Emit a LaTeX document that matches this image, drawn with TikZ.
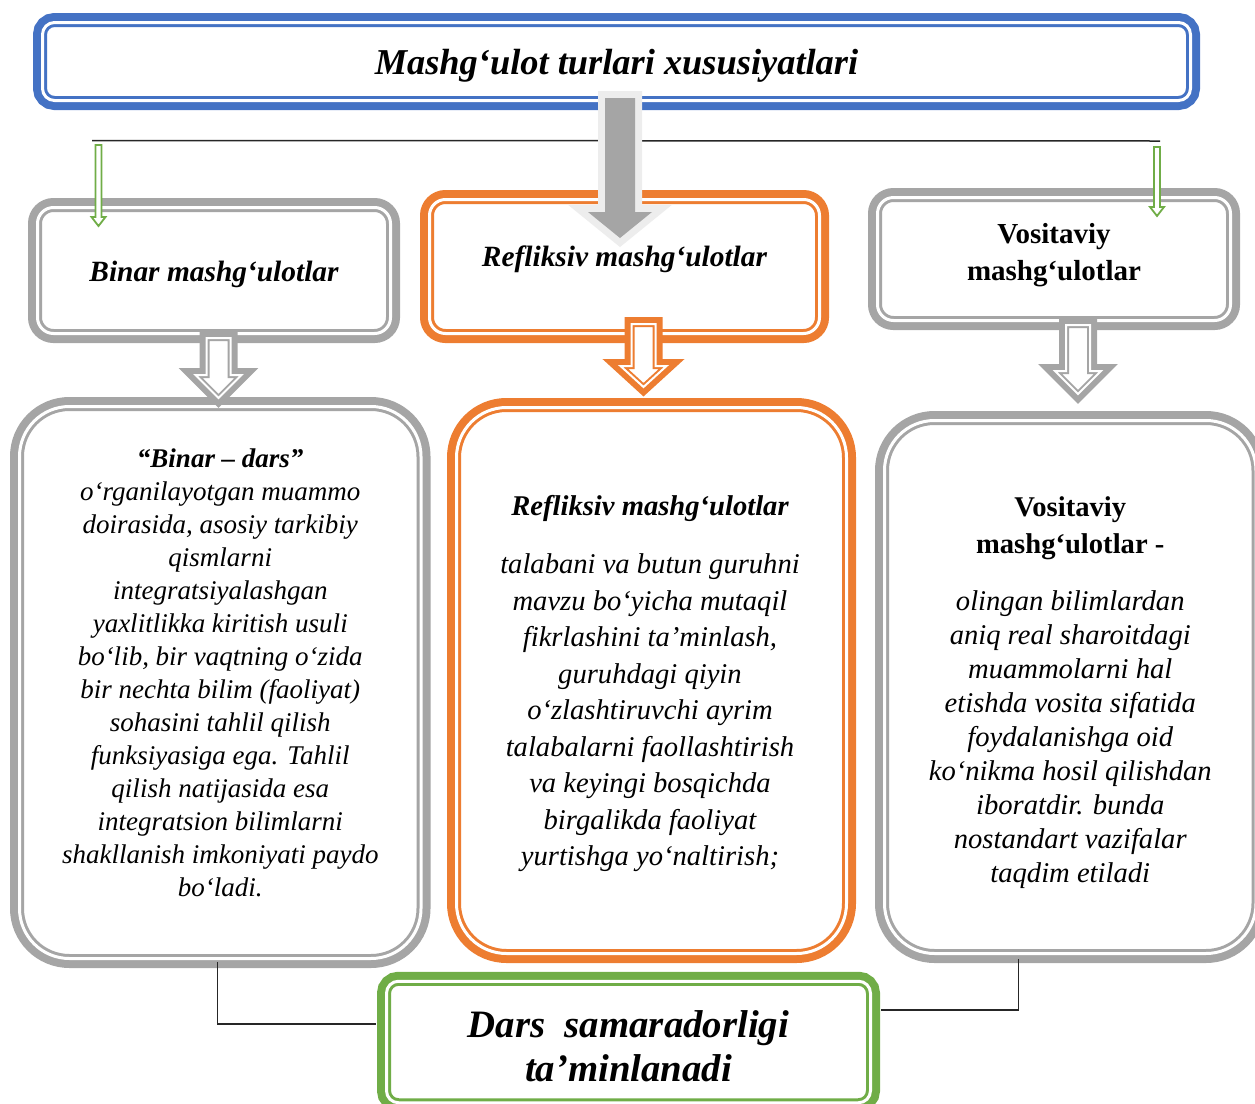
\documentclass[tikz,border=0pt]{standalone}
\usepackage{fontspec}
\setmainfont{Liberation Serif}
\usetikzlibrary{calc}
\definecolor{titleblue}{HTML}{4472C4}
\definecolor{reflorange}{HTML}{ED7D31}
\definecolor{boxgray}{HTML}{A5A5A5}
\definecolor{resgreen}{HTML}{70AD47}
\definecolor{glowgray}{HTML}{EDEDED}
\tikzset{
	dframe/.style={draw=#1, fill=white, line width=1.5pt, double=white, double distance=1.5pt,
		preaction={draw=#1, line width=9.5pt}, inner sep=0pt},
	harrow/.style={draw=#1, fill=white, line width=1pt, double=white, double distance=1pt, line join=miter,
		preaction={draw=#1, line width=7pt, line join=miter}},
	garrow/.style={draw=resgreen, fill=white, line width=0.9pt},
	bigarrow/.style={fill=boxgray, preaction={draw=glowgray, line width=7pt}},
	conn/.style={draw=black!85, line width=0.75pt},
	txt/.style={align=center, inner sep=0pt, text=black},
	headfont/.style={font=\fontsize{14.7}{17}\selectfont\bfseries\itshape},
}
\begin{document}
\begin{tikzpicture}[x=0.5pt, y=-0.5pt]
			\useasboundingbox (0,0) rectangle (1255,1104);
			\clip (0,0) rectangle (1255,1104);
			% frames
			\node[dframe=titleblue, rounded corners=6pt, minimum width=574pt, minimum height=39pt] (title) at (616.5,61.5) {};
			\node[dframe=boxgray, rounded corners=8pt, minimum width=176.5pt, minimum height=63pt] (binar) at (214,270.5) {};
			\node[dframe=reflorange, rounded corners=8pt, minimum width=195pt, minimum height=67pt] (refl) at (624.5,266.5) {};
			\node[dframe=boxgray, rounded corners=8pt, minimum width=176.5pt, minimum height=61.5pt] (vosit) at (1054,259) {};
			\node[dframe=boxgray, rounded corners=25pt, minimum width=200.75pt, minimum height=276pt] (binarbig) at (220.25,682.5) {};
			\node[dframe=reflorange, rounded corners=25pt, minimum width=195pt, minimum height=273pt] (reflbig) at (651.5,680.5) {};
			\node[dframe=boxgray, rounded corners=25pt, minimum width=185.75pt, minimum height=266.5pt] (vositbig) at (1070.25,687) {};
			\node[dframe=resgreen, rounded corners=6pt, minimum width=242pt, minimum height=60.75pt] (dars) at (628.5,1042) {};
			% connectors to the result
			\draw[conn] ($(binarbig.south)+(-3,2)$) |- ($(dars.west)+(-9,-18)$);
			\draw[conn] ($(vositbig.south)+(-52,4)$) |- ($(dars.east)+(9,-32)$);
			\draw[conn] (92,140.5) -- (1160,141);
			% texts
			\node[txt, font=\fontsize{18.2}{20}\selectfont\bfseries\itshape] (titletxt) at ($(title)+(0,4)$) {Mashg‘ulot turlari xususiyatlari};
			\node[txt, headfont] (binartxt) at ($(binar)+(0,4)$) {Binar mashg‘ulotlar};
			\node[txt, headfont] (refltxt) at ($(refl)+(0,-7)$) {Refliksiv mashg‘ulotlar};
			\node[txt, font=\fontsize{14.5}{18.5}\selectfont\bfseries] (vosittxt) at ($(vosit)+(0,-3.5)$) {Vositaviy\\mashg‘ulotlar};
			\node[txt, anchor=north, font=\fontsize{13.5}{16.5}\selectfont\itshape] (binarbigtxt) at ($(binarbig.north)+(0,43)$)
				{\textbf{“Binar – dars”}\\o‘rganilayotgan muammo\\doirasida, asosiy tarkibiy\\qismlarni\\integratsiyalashgan\\yaxlitlikka kiritish usuli\\bo‘lib, bir vaqtning o‘zida\\bir nechta bilim (faoliyat)\\sohasini tahlil qilish\\funksiyasiga ega. Tahlil\\qilish natijasida esa\\integratsion bilimlarni\\shakllanish imkoniyati paydo\\bo‘ladi.};
			\node[txt, anchor=north, font=\fontsize{14.3}{18.25}\selectfont\itshape] (reflbigtxt) at ($(reflbig.north)+(-1.5,89)$)
				{\textbf{Refliksiv mashg‘ulotlar}\\[10.75pt]talabani va butun guruhni\\mavzu bo‘yicha mutaqil\\fikrlashini ta’minlash,\\guruhdagi qiyin\\o‘zlashtiruvchi ayrim\\talabalarni faollashtirish\\va keyingi bosqichda\\birgalikda faoliyat\\yurtishga yo‘naltirish;};
			\node[txt, anchor=north, font=\fontsize{14.3}{17}\selectfont\itshape] (vositbigtxt) at ($(vositbig.north)+(0,77.5)$)
				{\textbf{\upshape Vositaviy}\\[1.5pt]\textbf{\upshape mashg‘ulotlar -}\\[11.5pt]olingan bilimlardan\\aniq real sharoitdagi\\muammolarni hal\\etishda vosita sifatida\\foydalanishga oid\\ko‘nikma hosil qilishdan\\iboratdir. bunda\\nostandart vazifalar\\taqdim etiladi};
			\node[txt, font=\fontsize{19.4}{22}\selectfont\bfseries\itshape] (darstxt) at ($(dars)+(0,4)$) {Dars~~samaradorligi\\ta’minlanadi};
			% arrows
			\path[bigarrow] (605,98) -- (635,98) -- (635,212) -- (652,212) -- (620,238) -- (588,212) -- (605,212) -- cycle;
			\foreach \cx/\t/\s/\p/\c in {218.5/331/368/408/boxgray, 643.5/317/359/397/reflorange, 1078/318/364/404/boxgray}
				\draw[harrow=\c] (\cx-12,\t+7) -- (\cx+12,\t+7) -- (\cx+12,\s+7) -- (\cx+23,\s+7) -- (\cx,\p-10) -- (\cx-23,\s+7) -- (\cx-12,\s+7) -- cycle;
			\foreach \cx/\t/\s/\p in {98.5/145/217/226, 1157/147/207/216}
				\draw[garrow] (\cx-3,\t) -- (\cx+3,\t) -- (\cx+3,\s) -- (\cx+7,\s) -- (\cx,\p) -- (\cx-7,\s) -- (\cx-3,\s) -- cycle;
\end{tikzpicture}
\end{document}
